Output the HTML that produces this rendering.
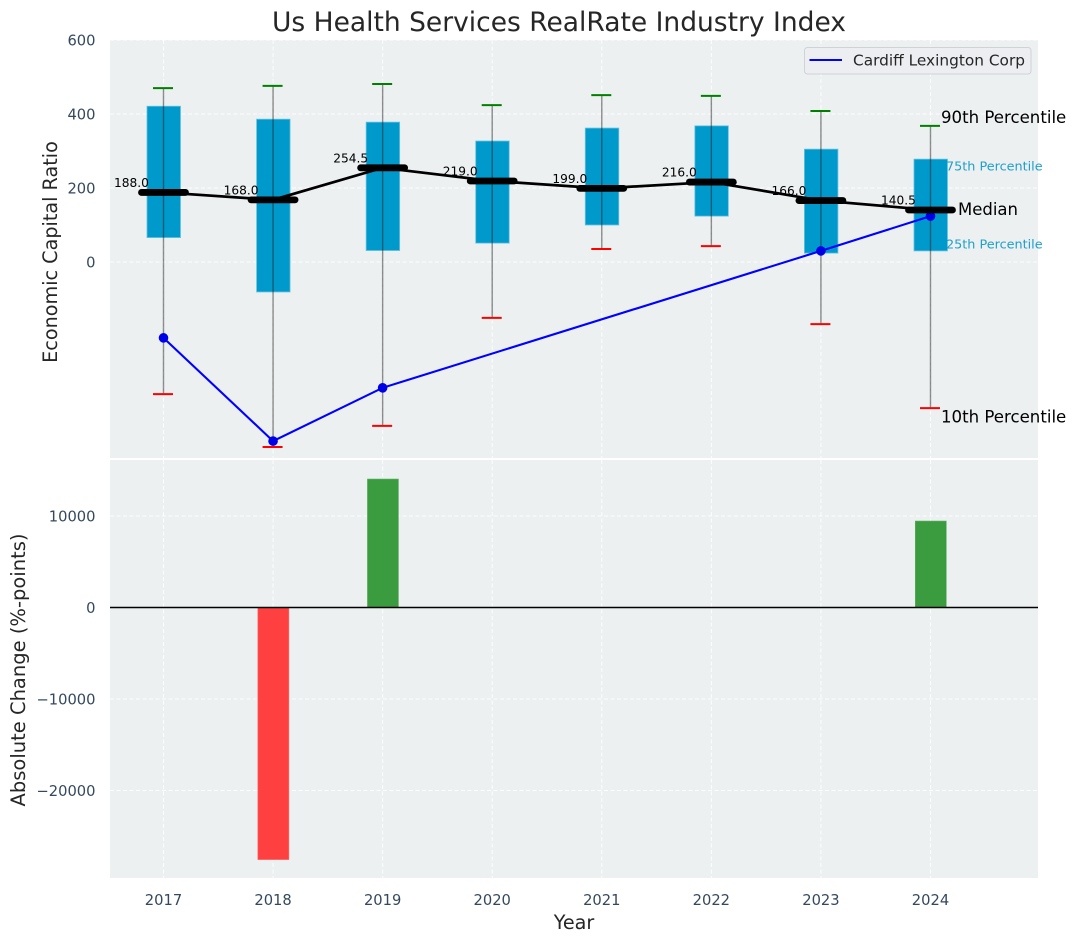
<!DOCTYPE html>
<html lang="en">
<head>
<meta charset="utf-8">
<title>Us Health Services RealRate Industry Index</title>
<style>
html,body{margin:0;padding:0;background:#fff;}
svg{display:block;font-family:"DejaVu Sans","Liberation Sans",sans-serif;}
</style>
</head>
<body>
<svg id="chart" xmlns="http://www.w3.org/2000/svg" width="1076" height="942" viewBox="0 0 1076 942"></svg>
<script>
const years = [2017, 2018, 2019, 2020, 2021, 2022, 2023, 2024];
const p90 = [470, 476, 481, 424, 451, 449, 408, 368];
const p75 = [421, 386, 378, 327, 362, 368, 305, 278];
const medians = [188, 168, 254.5, 219, 199, 216, 166, 140.5];
const p25 = [66, -81, 31, 51, 100, 124, 24, 30];
const p10 = [-357, -500, -443, -151, 35, 43, -168, -395];
const companyYears = [2017, 2018, 2019, 2023, 2024];
const companyValues = [-205, -484, -340, 30, 124];
const changeYears = [2018, 2019, 2024];
const changeValues = [-27550, 14040, 9450];
const topTicks = [600, 400, 200, 0];
const bottomTicks = [10000, 0, -10000, -20000];

const NS = 'http://www.w3.org/2000/svg';
const svg = document.getElementById('chart');
const AX = {l: 110, r: 1038, t1: 40, b1: 458, t2: 460, b2: 878};
function xs(v) { return 163.5 + (v - 2017) * 109.57; }
function y1(v) { return 262 - v * 0.37; }
function y2(v) { return 607.5 - v * 0.00915; }
function make(tag, attrs, text) {
  const el = document.createElementNS(NS, tag);
  for (const k in attrs) el.setAttribute(k, attrs[k]);
  if (text !== undefined) el.textContent = text;
  svg.appendChild(el);
  return el;
}
function fmtTick(v) { return v < 0 ? '\u2212' + Math.abs(v) : String(v); }
const GRID = {stroke: '#ffffff', 'stroke-width': 1, 'stroke-dasharray': '4 2.5', 'stroke-opacity': 0.85};
const TICK_SIZE = 14.7;

let el;
el = make('rect', {x: AX.l, y: AX.t1, width: AX.r - AX.l, height: AX.b1 - AX.t1, fill: '#ecf0f1'});


el = make('rect', {x: AX.l, y: AX.t2, width: AX.r - AX.l, height: AX.b2 - AX.t2, fill: '#ecf0f1'});



// grid
years.forEach(function (yr) {
  el = make('line', Object.assign({x1: xs(yr), x2: xs(yr), y1: AX.t1, y2: AX.b1}, GRID));
  
  
  el = make('line', Object.assign({x1: xs(yr), x2: xs(yr), y1: AX.t2, y2: AX.b2}, GRID));
  
  
  el = make('text', {x: xs(yr), y: 905, 'text-anchor': 'middle', 'font-size': TICK_SIZE, fill: '#34495e'}, String(yr));
  
  
});
topTicks.forEach(function (t) {
  el = make('line', Object.assign({x1: AX.l, x2: AX.r, y1: y1(t), y2: y1(t)}, GRID));
  
  
  el = make('text', {x: 95.5, y: y1(t) + 5.5, 'text-anchor': 'end', 'font-size': TICK_SIZE, fill: '#34495e'}, fmtTick(t));
  
  
});
bottomTicks.forEach(function (t) {
  el = make('line', Object.assign({x1: AX.l, x2: AX.r, y1: y2(t), y2: y2(t)}, GRID));
  
  
  el = make('text', {x: 95.5, y: y2(t) + 5.5, 'text-anchor': 'end', 'font-size': TICK_SIZE, fill: '#34495e'}, fmtTick(t));
  
  
});

// boxes and whiskers
years.forEach(function (yr, i) {
  const cx = xs(yr);
  el = make('rect', {x: cx - 16.5, y: y1(p75[i]), width: 33.5, height: y1(p25[i]) - y1(p75[i]), fill: '#0099cc', stroke: '#66c2e0', 'stroke-width': 0.8});
  
  
  el = make('line', {x1: cx, x2: cx, y1: y1(p90[i]), y2: y1(p10[i]), stroke: '#222', 'stroke-opacity': 0.5, 'stroke-width': 1.4});
  
  
  el = make('line', {x1: cx - 10.5, x2: cx + 9.5, y1: y1(p90[i]), y2: y1(p90[i]), stroke: '#008000', 'stroke-width': 2});
  
  
  el = make('line', {x1: cx - 10.5, x2: cx + 9.5, y1: y1(p10[i]), y2: y1(p10[i]), stroke: '#ff0000', 'stroke-width': 2});
  
  
});

// company line
el = make('polyline', {points: companyYears.map(function (yr, i) { return xs(yr) + ',' + y1(companyValues[i]); }).join(' '), fill: 'none', stroke: '#0000ff', 'stroke-width': 2.1});


companyYears.forEach(function (yr, i) {
  el = make('circle', {cx: xs(yr), cy: y1(companyValues[i]), r: 4.8, fill: '#0000e6'});
  
  
});

// median line
el = make('polyline', {points: years.map(function (yr, i) { return xs(yr) + ',' + y1(medians[i]); }).join(' '), fill: 'none', stroke: '#000', 'stroke-width': 2.7});


years.forEach(function (yr, i) {
  const cx = xs(yr);
  el = make('line', {x1: cx - 22, x2: cx + 22, y1: y1(medians[i]), y2: y1(medians[i]), stroke: '#000', 'stroke-width': 6.8, 'stroke-linecap': 'round'});
  
  
  el = make('text', {x: cx - 32, y: y1(medians[i]) - 5.5, 'text-anchor': 'middle', 'font-size': 12.2, fill: '#000'}, medians[i].toFixed(1));
  
  
});

// percentile annotations
const last = years.length - 1;
const lastX = xs(years[last]);
el = make('text', {x: lastX + 10.5, y: y1(p90[last]) - 3, 'font-size': 16.6, fill: '#000'}, '90th Percentile');


el = make('text', {x: lastX + 15.5, y: y1(p75[last]) + 11.5, 'font-size': 12.8, fill: '#1f9fcc'}, '75th Percentile');


el = make('text', {x: lastX + 27.5, y: y1(medians[last]) + 5, 'font-size': 16.5, fill: '#000'}, 'Median');


el = make('text', {x: lastX + 15.5, y: y1(p25[last]) - 2.5, 'font-size': 12.8, fill: '#1f9fcc'}, '25th Percentile');


el = make('text', {x: lastX + 10.5, y: y1(p10[last]) + 14.5, 'font-size': 16.6, fill: '#000'}, '10th Percentile');



// bottom bars
changeYears.forEach(function (yr, i) {
  const v = changeValues[i];
  const top = Math.min(y2(v), y2(0));
  el = make('rect', {x: xs(yr) - 15.2, y: top, width: 31, height: Math.abs(y2(v) - y2(0)), fill: v < 0 ? '#ff4040' : '#3b9c3f', stroke: v < 0 ? '#ff6666' : '#62ad65', 'stroke-width': 0.6});
  
  
});
el = make('line', {x1: AX.l, x2: AX.r, y1: y2(0), y2: y2(0), stroke: '#000', 'stroke-width': 1.4});



// legend
el = make('rect', {x: 804.5, y: 47.5, width: 226.5, height: 26.5, rx: 3, fill: '#eceef2', stroke: '#d0d2d6', 'stroke-width': 1});


el = make('line', {x1: 809.5, x2: 842, y1: 60, y2: 60, stroke: '#0000ff', 'stroke-width': 2.1});


el = make('text', {x: 853, y: 65.5, 'font-size': 14.7, fill: '#262626', textLength: 172, lengthAdjust: 'spacingAndGlyphs'}, 'Cardiff Lexington Corp');



// titles
el = make('text', {x: 559, y: 31, 'text-anchor': 'middle', 'font-size': 26.5, fill: '#262626'}, 'Us Health Services RealRate Industry Index');


el = make('text', {x: 574, y: 929, 'text-anchor': 'middle', 'font-size': 19.2, fill: '#262626'}, 'Year');


el = make('text', {x: 0, y: 0, transform: 'translate(57 252) rotate(-90)', 'text-anchor': 'middle', 'font-size': 19.2, fill: '#262626'}, 'Economic Capital Ratio');


el = make('text', {x: 0, y: 0, transform: 'translate(25 670) rotate(-90)', 'text-anchor': 'middle', 'font-size': 19.5, fill: '#262626'}, 'Absolute Change (%-points)');


</script>
</body>
</html>
